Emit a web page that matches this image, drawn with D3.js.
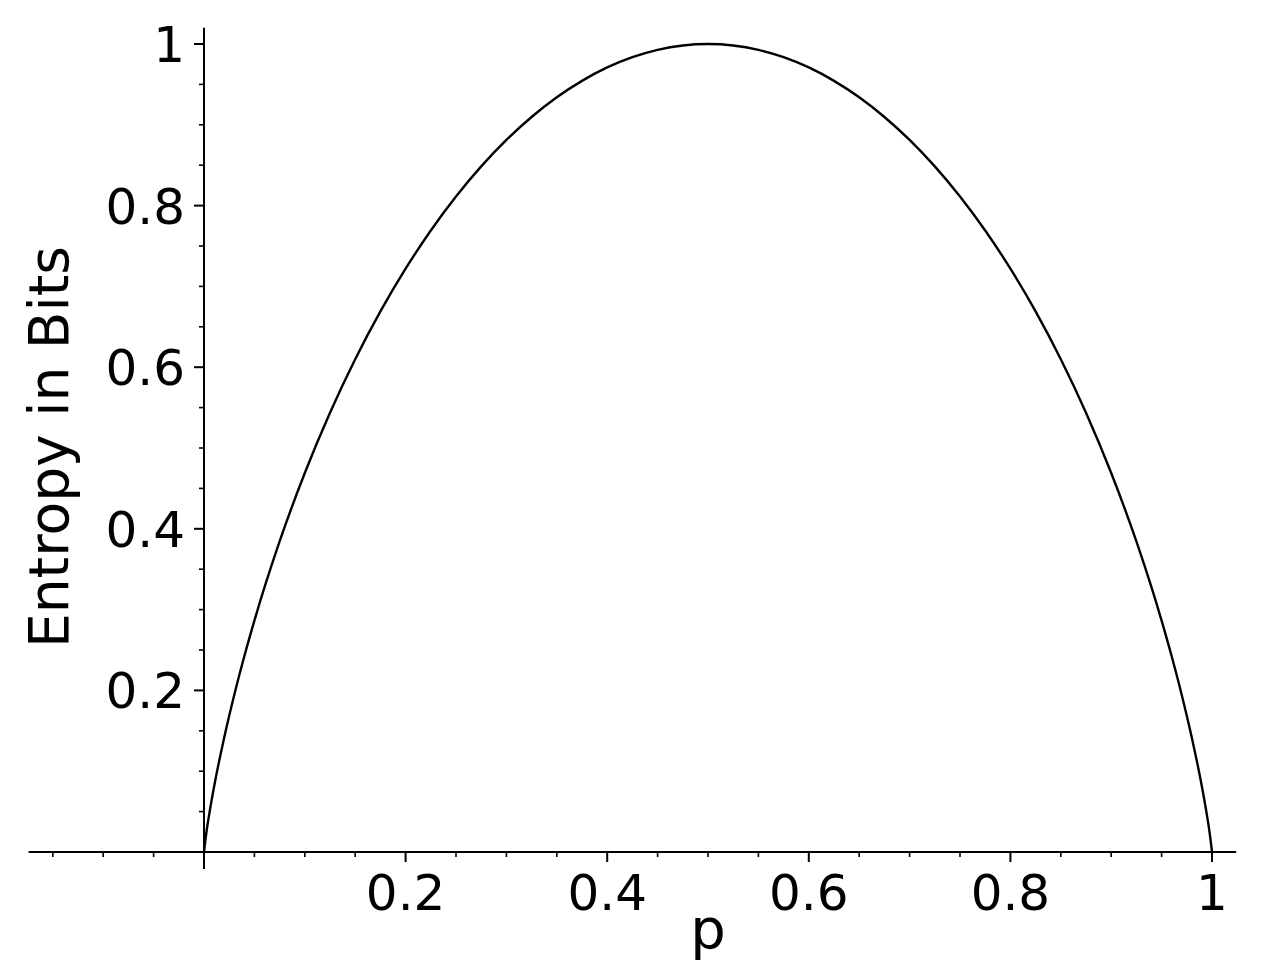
<!DOCTYPE html>
<html>
<head>
<meta charset="utf-8">
<script src="https://cdn.jsdelivr.net/npm/d3@7"></script>
<style>
  html, body { margin: 0; padding: 0; background: #fff; }
  svg text { font-family: "DejaVu Sans", sans-serif; fill: #000; }
</style>
</head>
<body>
<div id="chart"></div>
<script>
// probability p and binary entropy H(p)
var pValues = [0, 0.0025, 0.005, 0.01, 0.015, 0.02, 0.03, 0.04, 0.05, 0.075, 0.1, 0.125, 0.15, 0.175, 0.2,
  0.225, 0.25, 0.275, 0.3, 0.325, 0.35, 0.375, 0.4, 0.425, 0.45, 0.475, 0.5,
  0.525, 0.55, 0.575, 0.6, 0.625, 0.65, 0.675, 0.7, 0.725, 0.75, 0.775, 0.8,
  0.825, 0.85, 0.875, 0.9, 0.925, 0.95, 0.96, 0.97, 0.98, 0.985, 0.99, 0.995, 0.9975, 1];
var entropyValues = [0, 0.0252, 0.0454, 0.0808, 0.1124, 0.1414, 0.1944, 0.2423, 0.2864, 0.3843, 0.4690, 0.5436, 0.6098, 0.6690, 0.7219,
  0.7692, 0.8113, 0.8485, 0.8813, 0.9097, 0.9341, 0.9544, 0.9710, 0.9837, 0.9928, 0.9982, 1,
  0.9982, 0.9928, 0.9837, 0.9710, 0.9544, 0.9341, 0.9097, 0.8813, 0.8485, 0.8113, 0.7692, 0.7219,
  0.6690, 0.6098, 0.5436, 0.4690, 0.3843, 0.2864, 0.2423, 0.1944, 0.1414, 0.1124, 0.0808, 0.0454, 0.0252, 0];

var xMajor = [0.2, 0.4, 0.6, 0.8, 1];
var xMinor = [-0.15, -0.1, -0.05, 0.05, 0.1, 0.15, 0.25, 0.3, 0.35, 0.45, 0.5, 0.55, 0.65, 0.7, 0.75, 0.85, 0.9, 0.95];
var yMajor = [0.2, 0.4, 0.6, 0.8, 1];
var yMinor = [0.05, 0.1, 0.15, 0.25, 0.3, 0.35, 0.45, 0.5, 0.55, 0.65, 0.7, 0.75, 0.85, 0.9, 0.95];
var xLimits = [-0.174, 1.024];
var yLimits = [-0.021, 1.02];

var width = 1265, height = 980;

var x = d3.scaleLinear().domain([0, 1]).range([204, 1212]);
var y = d3.scaleLinear().domain([0, 1]).range([852, 44]);

var fmt = function(d) { return d === 1 ? "1" : d3.format(".1f")(d); };

var svg = d3.select("#chart").append("svg")
    .attr("width", width)
    .attr("height", height);

// x axis (spine through y = 0)
var gx = svg.append("g")
    .attr("transform", "translate(0," + y(0) + ")");
gx.append("line")
    .attr("x1", x(xLimits[0])).attr("x2", x(xLimits[1]))
    .attr("stroke", "#000").attr("stroke-width", 2);
gx.selectAll(".minor").data(xMinor).enter().append("line")
    .attr("class", "minor")
    .attr("x1", function(d) { return x(d); }).attr("x2", function(d) { return x(d); })
    .attr("y1", 0).attr("y2", 5)
    .attr("stroke", "#000").attr("stroke-width", 1.6);
gx.selectAll(".major").data(xMajor).enter().append("line")
    .attr("class", "major")
    .attr("x1", function(d) { return x(d); }).attr("x2", function(d) { return x(d); })
    .attr("y1", 0).attr("y2", 10)
    .attr("stroke", "#000").attr("stroke-width", 2);
gx.selectAll(".lbl").data(xMajor).enter().append("text")
    .attr("class", "lbl")
    .attr("x", function(d) { return x(d); })
    .attr("y", 58)
    .attr("text-anchor", "middle")
    .style("font-size", "50px")
    .text(fmt);

// y axis (spine through x = 0)
var gy = svg.append("g")
    .attr("transform", "translate(" + x(0) + ",0)");
gy.append("line")
    .attr("y1", y(yLimits[0])).attr("y2", y(yLimits[1]))
    .attr("stroke", "#000").attr("stroke-width", 2);
gy.selectAll(".minor").data(yMinor).enter().append("line")
    .attr("class", "minor")
    .attr("y1", function(d) { return y(d); }).attr("y2", function(d) { return y(d); })
    .attr("x1", 0).attr("x2", -5)
    .attr("stroke", "#000").attr("stroke-width", 1.6);
gy.selectAll(".major").data(yMajor).enter().append("line")
    .attr("class", "major")
    .attr("y1", function(d) { return y(d); }).attr("y2", function(d) { return y(d); })
    .attr("x1", 0).attr("x2", -10)
    .attr("stroke", "#000").attr("stroke-width", 2);
gy.selectAll(".lbl").data(yMajor).enter().append("text")
    .attr("class", "lbl")
    .attr("x", -19)
    .attr("y", function(d) { return y(d) + 18; })
    .attr("text-anchor", "end")
    .style("font-size", "50px")
    .text(fmt);

// axis labels
svg.append("text")
    .attr("x", x(0.5))
    .attr("y", 948)
    .attr("text-anchor", "middle")
    .style("font-size", "56px")
    .text("p");

svg.append("text")
    .attr("transform", "translate(68," + 447 + ") rotate(-90)")
    .attr("text-anchor", "middle")
    .style("font-size", "55px")
    .text("Entropy in Bits");

// entropy curve
var line = d3.line()
    .x(function(d, i) { return x(pValues[i]); })
    .y(function(d) { return y(d); })
    .curve(d3.curveMonotoneX);

svg.append("path")
    .datum(entropyValues)
    .attr("fill", "none")
    .attr("stroke", "#000")
    .attr("stroke-width", 2.4)
    .attr("d", line);
</script>
</body>
</html>
